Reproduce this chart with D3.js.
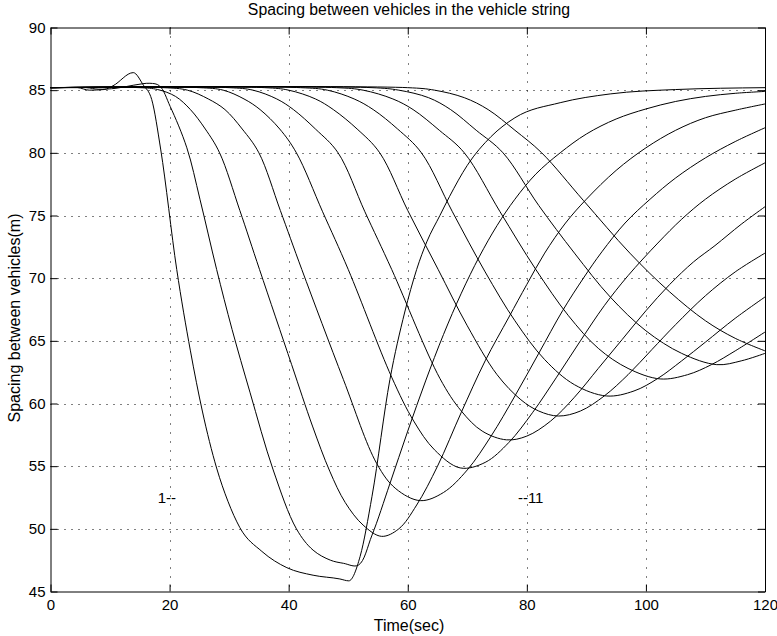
<!DOCTYPE html>
<html><head><meta charset="utf-8">
<script src="https://cdn.jsdelivr.net/npm/d3@7"></script>
<style>
body{margin:0;background:#fff}
text{font-family:"Liberation Sans",Arial,Helvetica,sans-serif;fill:#000}
</style>
</head><body>
<svg id="chart" width="777" height="636"></svg>
<script>
// ---- data ----
const titleText = "Spacing between vehicles in the vehicle string";
const xLabel = "Time(sec)";
const yLabel = "Spacing between vehicles(m)";
const xTicks = [0, 20, 40, 60, 80, 100, 120];
const yTicks = [45, 50, 55, 60, 65, 70, 75, 80, 85, 90];
const xDomain = [0, 120];
const yDomain = [45, 90];

const s1 = [[0,85.2],[4.5,85.2],[6.5,85.0],[9,85.05],[10.5,85.35],[13.9,86.4],[15.6,85.4],[17,84.25],[18.5,80.3],[21.2,70.7],[23.5,64.2],[25.5,59.4],[27.9,54.85],[29.8,52.2],[31.8,50.1],[35.5,48.2],[39.7,46.9],[44.1,46.3],[48.6,46.0],[50.1,45.85],[52,47.8],[54,52.6],[57,61.9],[59.5,67.3],[61.5,70.7],[63.2,72.9],[65.4,75.0],[67,76.5],[70,79.0],[74,81.3],[78,82.8],[85.6,84.0],[94,84.7],[105,85.05],[120,85.2]];
const s2 = [[0,85.2],[6,85.2],[8,85.08],[11,85.15],[14,85.4],[16.7,85.55],[18.3,85.35],[20.1,83.7],[22.9,80.4],[25.1,76.3],[27.9,70.7],[30.5,65.9],[33.5,60.9],[37.4,54.7],[41.3,50.0],[44.1,48.3],[47,47.5],[49.2,47.25],[51.7,47.1],[54,49.5],[57,53.6],[60,57.8],[63,61.8],[66,65.5],[69,68.8],[72,71.7],[75,74.2],[78,76.3],[81.5,78.3],[85.6,80.0],[90,81.5],[95,82.7],[100,83.5],[105,84.1],[110,84.5],[115,84.75],[120,84.9]];
const s3 = [[0,85.2],[15,85.2],[18,85.05],[21,84.5],[23.5,83.45],[26,81.9],[28.4,80],[31.8,75.4],[35.1,70.7],[40.5,63.1],[44,58.2],[46.9,54.6],[49.5,52.1],[52.5,50.3],[55.6,49.4],[58.5,50.0],[61.5,51.9],[65,55.0],[69,59.3],[73,63.4],[77,66.9],[80,69.5],[83,72.0],[86.5,74.4],[90,76.3],[95,78.6],[100,80.4],[105,81.8],[110,82.8],[115,83.4],[120,83.9]];
const s4 = [[0,85.2],[19,85.2],[23,85.0],[26.5,84.3],[29.3,83.45],[32.2,81.9],[35,80],[38.6,75.4],[42.2,70.7],[49.2,61.9],[54.8,55.2],[58,53.2],[62.1,52.25],[66,52.9],[70,54.7],[74,57.4],[78,60.6],[82,64.0],[86,67.4],[89.5,70.0],[92.6,72.1],[96.5,74.4],[100.7,76.3],[105,78.0],[110,79.6],[115,80.9],[120,82.0]];
const s5 = [[0,85.2],[25,85.2],[29,85.0],[32.5,84.3],[35.2,83.45],[38.5,81.9],[41.3,80],[45.7,75.3],[50,70.7],[57.3,62.1],[61,58.6],[64.5,56.3],[68.8,54.86],[73,55.3],[77,56.9],[81,59.3],[85,62.1],[89,65.0],[93,67.8],[97,70.2],[102,72.8],[106,74.7],[110,76.3],[115,77.9],[120,79.2]];
const s6 = [[0,85.2],[30,85.2],[34,85.0],[38,84.3],[40.8,83.45],[44.5,81.9],[48.3,80],[52.8,75.3],[57.3,70.7],[65.4,62.0],[69,59.4],[72.5,57.8],[76.6,57.1],[80,57.4],[84,58.6],[88,60.5],[92,62.8],[96,65.1],[100,67.4],[104,69.5],[108,71.3],[111.6,72.6],[116,74.3],[120,75.7]];
const s7 = [[0,85.2],[36,85.2],[40,85.0],[44.5,84.3],[47.5,83.45],[51.5,81.9],[55.3,80],[60,75.4],[65.1,70.7],[70,66.2],[75,62.3],[79,60.3],[82,59.4],[85.3,59.0],[89,59.4],[93,60.6],[97,62.3],[101,64.3],[105,66.3],[110,68.6],[115,70.5],[120,72.0]];
const s8 = [[0,85.2],[42,85.2],[46.5,85.0],[51,84.3],[54.2,83.45],[58.3,81.9],[62.3,80],[67.5,75.3],[73,70.5],[78,66.6],[83,63.5],[88,61.5],[93.4,60.6],[98,61.0],[102,62.0],[106,63.4],[110,64.9],[115,66.8],[120,68.5]];
const s9 = [[0,85.2],[48,85.2],[52.5,85.0],[57.5,84.3],[60.9,83.45],[65.3,81.8],[69.5,80],[75.5,75.3],[81.5,70.7],[87,67.0],[92,64.4],[97,62.8],[102.4,61.96],[107,62.3],[111,63.1],[115,64.2],[120,65.7]];
const s10 = [[0,85.2],[54,85.2],[58.5,85.0],[63.5,84.4],[67.2,83.45],[71.5,81.8],[76,80],[82,75.8],[88,72.0],[94,68.5],[100,65.8],[106,64.0],[111.9,63.1],[116,63.4],[120,64.0]];
const s11 = [[0,85.2],[60,85.2],[64.5,85.0],[69.5,84.4],[73.5,83.45],[78,81.8],[82.5,80],[89.5,76.2],[97.3,72.0],[104,68.9],[110,66.6],[115,65.2],[120,64.2]];
const seriesList = [s1, s2, s3, s4, s5, s6, s7, s8, s9, s10, s11];

const annotations = [
  {text: "1--", t: 18.0, v: 52.1},
  {text: "--11", t: 78.5, v: 52.1}
];

// ---- drawing ----
const svg = d3.select("#chart");
const xs = d3.scaleLinear().domain(xDomain).range([50.5, 765]);
const ys = d3.scaleLinear().domain(yDomain).range([591.5, 27.5]);

const grid = svg.append("g");
grid.selectAll("line.v").data(xTicks.slice(1, -1)).join("line")
  .attr("x1", d => Math.round(xs(d)) + 0.5).attr("x2", d => Math.round(xs(d)) + 0.5)
  .attr("y1", ys(yDomain[1])).attr("y2", ys(yDomain[0]))
  .attr("stroke", "#000").attr("stroke-width", 1).attr("stroke-dasharray", "1,8");
grid.selectAll("line.h").data(yTicks.slice(1, -1)).join("line")
  .attr("y1", d => Math.round(ys(d)) + 0.5).attr("y2", d => Math.round(ys(d)) + 0.5)
  .attr("x1", xs(xDomain[0])).attr("x2", xs(xDomain[1]))
  .attr("stroke", "#000").attr("stroke-width", 1).attr("stroke-dasharray", "1,6");

const lineSmooth = d3.line().x(d => xs(d[0])).y(d => ys(d[1])).curve(d3.curveCatmullRom.alpha(0.5));
const lineSharp = d3.line().x(d => xs(d[0])).y(d => ys(d[1])).curve(d3.curveMonotoneX);
svg.append("g").selectAll("path").data(seriesList).join("path")
  .attr("d", (d, i) => i === 0 ? lineSharp(d) : lineSmooth(d))
  .attr("fill", "none").attr("stroke", "#000").attr("stroke-width", 1);

const fs = 15;
const axB = svg.append("g").attr("transform", `translate(0,${ys(yDomain[0])})`)
  .call(d3.axisBottom(xs).tickValues(xTicks).tickSize(-7).tickPadding(8).tickSizeOuter(0));
const axT = svg.append("g").attr("transform", `translate(0,${ys(yDomain[1])})`)
  .call(d3.axisTop(xs).tickValues(xTicks).tickSize(-7).tickFormat("").tickSizeOuter(0));
const axL = svg.append("g").attr("transform", `translate(${xs(xDomain[0])},0)`)
  .call(d3.axisLeft(ys).tickValues(yTicks).tickSize(-7).tickPadding(5).tickSizeOuter(0));
const axR = svg.append("g").attr("transform", `translate(${xs(xDomain[1])},0)`)
  .call(d3.axisRight(ys).tickValues(yTicks).tickSize(-7).tickFormat("").tickSizeOuter(0));
[axB, axT, axL, axR].forEach(g => {
  g.selectAll("path.domain").attr("stroke", "#000").attr("stroke-width", 1);
  g.selectAll(".tick line").attr("stroke", "#000");
  g.selectAll("text").attr("font-size", fs).attr("font-family", "Liberation Sans, Arial, sans-serif").attr("fill", "#000");
});

svg.append("text").attr("x", 409).attr("y", 15).attr("text-anchor", "middle")
  .attr("font-size", 15.8).text(titleText);
svg.append("text").attr("x", 409).attr("y", 631).attr("text-anchor", "middle")
  .attr("font-size", 16).text(xLabel);
svg.append("text").attr("transform", "translate(20,318) rotate(-90)").attr("text-anchor", "middle")
  .attr("font-size", 16).text(yLabel);

svg.append("g").selectAll("text").data(annotations).join("text")
  .attr("x", d => xs(d.t)).attr("y", d => ys(d.v)).attr("font-size", 15)
  .text(d => d.text);
</script>
</body></html>
